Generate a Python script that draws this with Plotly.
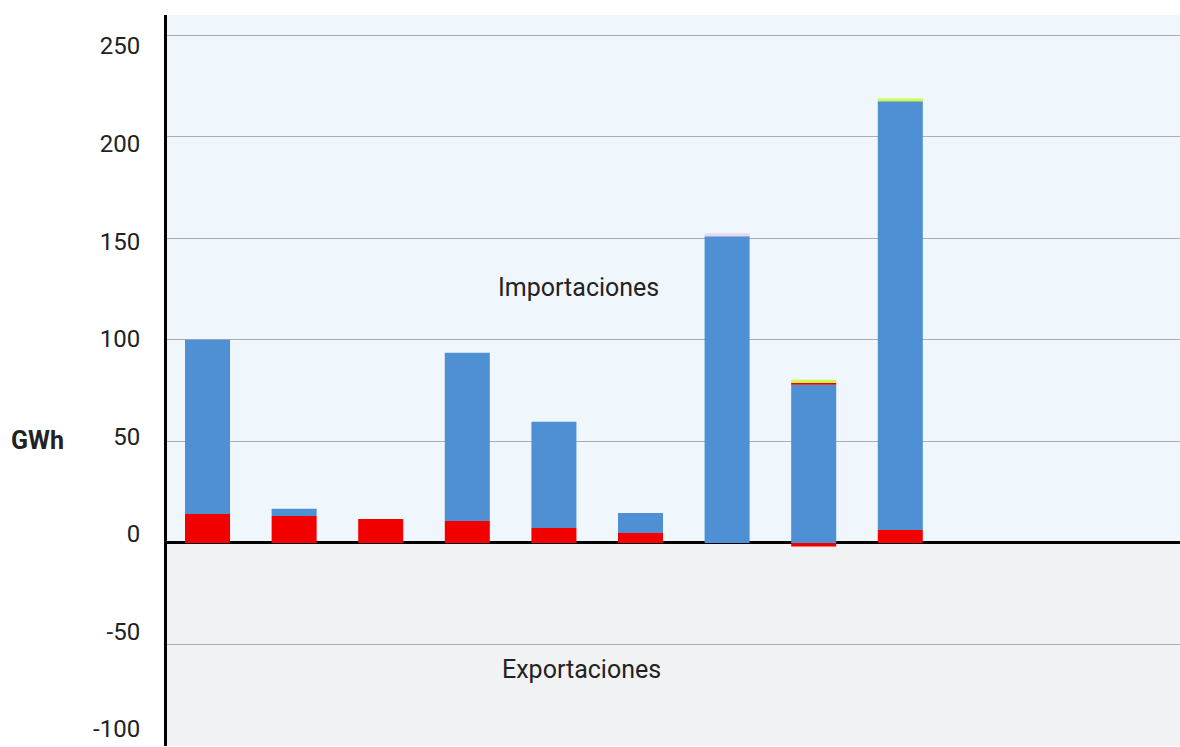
import plotly.graph_objects as go

# Data (GWh)
categories = ["1", "2", "3", "4", "5", "6", "7", "8", "9"]
serie_roja = [14.3, 13.3, 11.8, 10.8, 7.4, 4.9, 0.0, -1.8, 6.4]
serie_azul = [85.8, 3.5, 0.0, 82.9, 52.3, 9.9, 151.0, 77.9, 211.1]
serie_roja_2 = [0, 0, 0, 0, 0, 0, 0, 1.0, 0]
serie_verde = [0, 0, 0, 0, 0, 0, 0, 1.5, 1.4]
serie_rosa = [0, 0, 0, 0, 0, 0, 1.5, 0, 0]

y_ticks = [-100, -50, 0, 50, 100, 150, 200, 250]
y_ticktext = [str(v) for v in y_ticks]

fig = go.Figure()
fig.add_bar(x=categories, y=serie_roja, name="Serie roja", marker_color="#f20000", marker_line_width=0)
fig.add_bar(x=categories, y=serie_azul, name="Serie azul", marker_color="#4f8fd4", marker_line_width=0)
fig.add_bar(x=categories, y=serie_roja_2, name="Serie roja 2", marker_color="#f20000", marker_line_width=0)
fig.add_bar(x=categories, y=serie_verde, name="Serie verde", marker_color="#ccff44", marker_line_width=0)
fig.add_bar(x=categories, y=serie_rosa, name="Serie rosa", marker_color="#e8d8ee", marker_line_width=0)
# invisible helper trace so the label axis is rendered
fig.add_scatter(x=[categories[0]], y=[y_ticks[0]], yaxis="y2", mode="markers",
                marker=dict(opacity=0), hoverinfo="skip", showlegend=False)

# background bands
fig.add_shape(type="rect", xref="paper", yref="y", x0=0, x1=1, y0=0, y1=260,
              fillcolor="#eff7fd", line_width=0, layer="below")
fig.add_shape(type="rect", xref="paper", yref="y", x0=0, x1=1, y0=-100, y1=0,
              fillcolor="#f1f2f4", line_width=0, layer="below")

fig.add_annotation(text="Importaciones", xref="paper", yref="y", x=0.406, y=126,
                   showarrow=False, font=dict(size=25, color="#222222", family="Roboto"))
fig.add_annotation(text="Exportaciones", xref="paper", yref="y", x=0.409, y=-62.5,
                   showarrow=False, font=dict(size=25, color="#222222", family="Roboto"))
fig.add_annotation(text="<b>GWh</b>", xref="paper", yref="y", x=-0.156, y=50.5,
                   xanchor="left", showarrow=False,
                   font=dict(size=25, color="#222222", family="Roboto"))

fig.update_layout(
    width=1180, height=747,
    margin=dict(l=167, r=0, t=15, b=1),
    barmode="relative",
    bargap=0.48,
    showlegend=False,
    paper_bgcolor="white",
    plot_bgcolor="rgba(0,0,0,0)",
    font=dict(family="Roboto", color="#222222"),
    xaxis=dict(type="category", range=[-0.468, 11.23], showticklabels=False,
               showgrid=False, zeroline=False, showline=False, ticks="",
               automargin=False),
    yaxis=dict(range=[-100, 260], tickvals=y_ticks, showticklabels=False, showgrid=True,
               gridcolor="#a9adb0", gridwidth=1,
               zeroline=True, zerolinecolor="#000000", zerolinewidth=2.5,
               showline=True, linecolor="#000000", linewidth=2.5, ticks="",
               layer="above traces", automargin=False),
    yaxis2=dict(overlaying="y", side="left", range=[-108.7, 265.9],
                tickvals=y_ticks, ticktext=y_ticktext, showgrid=False, zeroline=False,
                showline=False, ticks="outside", ticklen=21, tickcolor="rgba(0,0,0,0)",
                tickfont=dict(size=24, color="#222222", family="Roboto"),
                ticklabeloverflow="allow", automargin=False),
)

fig.write_html(
    "out.html",
    config={"displayModeBar": False},
    post_script="document.body.style.margin='0';document.body.style.overflow='hidden';",
)
